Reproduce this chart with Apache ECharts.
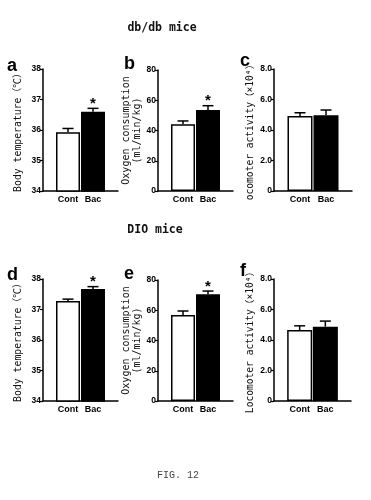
<!DOCTYPE html>
<html><head><meta charset="utf-8">
<script src="https://cdn.jsdelivr.net/npm/echarts@6/dist/echarts.min.js"></script>
<style>html,body{margin:0;padding:0;background:#fff}#c{width:371px;height:500px}</style>
</head><body><div id="c"></div>
<script>
// ---- data ----
var categories = ['Cont', 'Bac'];
var tempDb = [35.93, 36.60];
var tempDbErr = [0.12, 0.11];
var o2Db = [44.1, 53.6];
var o2DbErr = [2.2, 2.8];
var locoDb = [4.92, 4.96];
var locoDbErr = [0.21, 0.35];
var tempDio = [37.28, 37.67];
var tempDioErr = [0.06, 0.08];
var o2Dio = [56.9, 70.5];
var o2DioErr = [2.6, 2.2];
var locoDio = [4.65, 4.87];
var locoDioErr = [0.28, 0.37];
var sigDb = [[0, 1], [0, 1], [0, 0]];
var sigDio = [[0, 1], [0, 1], [0, 0]];
var tempTicks = ['34', '35', '36', '37', '38'];
var o2Ticks = ['0', '20', '40', '60', '80'];
var locoTicks = ['0', '2.0', '4.0', '6.0', '8.0'];
var panelLetters = ['a', 'b', 'c', 'd', 'e', 'f'];
var groupTitles = ['db/db mice', 'DIO mice'];
var figLabel = 'FIG. 12';

// ---- layout ----
var grids = [
  {left: 43, top: 69, width: 75, height: 122},
  {left: 158, top: 70, width: 75, height: 121},
  {left: 274, top: 69, width: 78, height: 122},
  {left: 43, top: 279, width: 75, height: 122},
  {left: 158, top: 280, width: 75, height: 121},
  {left: 274, top: 279, width: 77, height: 122}
];
var panels = [
  {vals: tempDb, errs: tempDbErr, sig: sigDb[0], ticks: tempTicks, min: 34, max: 38, interval: 1, name: 'Body temperature（℃）', gap: 19, fs: 9.8, bw: 24},
  {vals: o2Db, errs: o2DbErr, sig: sigDb[1], ticks: o2Ticks, min: 0, max: 80, interval: 20, name: 'Oxygen consumption\n(ml/min/kg)', gap: 13, fs: 10, bw: 24},
  {vals: locoDb, errs: locoDbErr, sig: sigDb[2], ticks: locoTicks, min: 0, max: 8, interval: 2, name: 'ocomoter activity（×10⁴）', gap: 16, fs: 9.6, bw: 25},
  {vals: tempDio, errs: tempDioErr, sig: sigDio[0], ticks: tempTicks, min: 34, max: 38, interval: 1, name: 'Body temperature（℃）', gap: 19, fs: 9.8, bw: 24},
  {vals: o2Dio, errs: o2DioErr, sig: sigDio[1], ticks: o2Ticks, min: 0, max: 80, interval: 20, name: 'Oxygen consumption\n(ml/min/kg)', gap: 13, fs: 10, bw: 24},
  {vals: locoDio, errs: locoDioErr, sig: sigDio[2], ticks: locoTicks, min: 0, max: 8, interval: 2, name: 'Locomoter activity（×10⁴）', gap: 16, fs: 9.6, bw: 25}
];
var axisCats = [''].concat(categories).concat(['']);
var monoFont = '"DejaVu Sans Mono", "Noto Sans CJK JP", monospace';
var sansFont = 'Arial, "Liberation Sans", sans-serif';

var xAxes = [], yAxes = [], series = [];
panels.forEach(function (p, i) {
  xAxes.push({
    type: 'category', gridIndex: i, data: axisCats, boundaryGap: false,
    axisLine: {lineStyle: {color: '#000', width: 1.5}},
    axisTick: {show: false},
    axisLabel: {color: '#000', fontFamily: sansFont, fontWeight: 'bold', fontSize: 9, margin: 4, interval: 0},
    splitLine: {show: false}
  });
  yAxes.push({
    type: 'value', gridIndex: i, min: p.min, max: p.max, interval: p.interval,
    name: p.name, nameLocation: 'middle', nameGap: p.gap, nameRotate: 90,
    nameTextStyle: {color: '#111', fontFamily: monoFont, fontSize: p.fs, lineHeight: 11},
    axisLine: {show: true, lineStyle: {color: '#000', width: 1.5}},
    axisTick: {show: true, length: 3, lineStyle: {color: '#000', width: 1.2}},
    axisLabel: {color: '#000', fontFamily: sansFont, fontWeight: 'bold', fontSize: 8.5, margin: 2,
      formatter: (function (ticks, mn, iv) { return function (v) { return ticks[Math.round((v - mn) / iv)]; }; })(p.ticks, p.min, p.interval)},
    splitLine: {show: false}
  });
  var barData = ['-'];
  p.vals.forEach(function (v, k) {
    barData.push({value: v, itemStyle: {color: k === 0 ? '#fff' : '#000', borderColor: '#000', borderWidth: 1.5}});
  });
  barData.push('-');
  series.push({
    type: 'bar', xAxisIndex: i, yAxisIndex: i, data: barData, barWidth: p.bw,
    silent: true, animation: false
  });
  var errData = p.vals.map(function (v, k) { return [k + 1, v, p.errs[k], p.sig[k]]; });
  series.push({
    type: 'custom', xAxisIndex: i, yAxisIndex: i, data: errData, silent: true, animation: false, z: 5,
    renderItem: function (params, api) {
      var x = api.value(0), v = api.value(1), e = api.value(2), s = api.value(3);
      var p0 = api.coord([x, v]);
      var p1 = api.coord([x, v + e]);
      var cw = 5.5;
      var children = [
        {type: 'line', shape: {x1: p0[0], y1: p0[1], x2: p1[0], y2: p1[1]}, style: {stroke: '#000', lineWidth: 1.5}},
        {type: 'line', shape: {x1: p1[0] - cw, y1: p1[1], x2: p1[0] + cw, y2: p1[1]}, style: {stroke: '#000', lineWidth: 1.5}}
      ];
      if (s) {
        children.push({type: 'text', style: {text: '*', x: p1[0], y: p1[1] + 3, textAlign: 'center', textVerticalAlign: 'bottom',
          fill: '#000', font: 'bold 15px Arial, "Liberation Sans", sans-serif'}});
      }
      return {type: 'group', children: children};
    }
  });
});

var titles = [
  {text: groupTitles[0], left: 162, top: 28},
  {text: groupTitles[1], left: 155, top: 230},
].map(function (t) {
  return {text: t.text, left: t.left, top: t.top, textAlign: 'center', textVerticalAlign: 'middle', padding: 0,
    textStyle: {color: '#111', fontFamily: monoFont, fontSize: 11.5, fontWeight: 'bold'}};
});
titles.push({text: figLabel, left: 178, top: 475, textAlign: 'center', textVerticalAlign: 'middle', padding: 0,
  textStyle: {color: '#444', fontFamily: '"Liberation Mono", "Courier New", monospace', fontSize: 10, fontWeight: 'normal'}});
var letterPos = [[7, 57], [124, 55], [240, 52], [7, 266], [124, 265], [240, 262]];
panelLetters.forEach(function (l, i) {
  titles.push({text: l, left: letterPos[i][0], top: letterPos[i][1], padding: 0,
    textStyle: {color: '#000', fontFamily: sansFont, fontSize: 18, fontWeight: 'bold'}});
});

var chart = echarts.init(document.getElementById('c'), null, {renderer: 'canvas'});
chart.setOption({
  backgroundColor: '#fff',
  animation: false,
  title: titles,
  grid: grids,
  xAxis: xAxes,
  yAxis: yAxes,
  series: series
});
</script></body></html>
